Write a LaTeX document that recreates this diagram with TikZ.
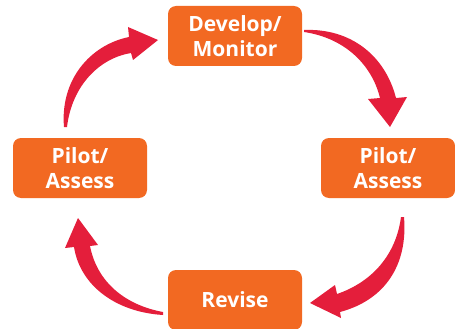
\documentclass[tikz,border=0pt]{standalone}
\usepackage{fontspec}
\setmainfont{Open Sans}
\usepackage{xcolor}
\definecolor{boxorange}{HTML}{F26922}
\definecolor{arrowred}{HTML}{E41E3B}

\begin{document}
\begin{tikzpicture}[x=1pt, y=-1pt,
        main/.style = {fill=boxorange, rounded corners=8pt, text=white, font=\fontsize{21}{25}\selectfont\bfseries, align=center, minimum width=134pt, minimum height=60pt, inner sep=0pt},
        curvy/.style = {fill=arrowred}]
        \useasboundingbox (0,0) rectangle (455,329);

        \node[main] (dev) at (235,36) {Develop/\\Monitor};
        \node[main] (pilotR) at (388,168) {Pilot/\\Assess};
        \node[main] (revise) at (235,300) {Revise};
        \node[main] (pilotL) at (80,168) {Pilot/\\Assess};

        % dev -> pilotR
        \fill[curvy] (304,30) .. controls (350,28) and (385,55) .. (396,98) -- (407,97) -- (390,127) -- (368,99) -- (380,98) .. controls (372,65) and (345,38) .. (304,32) -- cycle;
        % pilotR -> revise
        \fill[curvy] (404,217) .. controls (408,265) and (385,300) .. (340,312) -- (341,318) -- (310,303) -- (335,285) -- (337,294) .. controls (372,282) and (396,255) .. (401,217) -- cycle;
        % revise -> pilotL
        \fill[curvy] (163,315) .. controls (115,312) and (80,285) .. (74,247) -- (65,248) -- (78,218) -- (98,245) -- (90,246) .. controls (97,282) and (125,305) .. (163,312) -- cycle;
        % pilotL -> dev
        \fill[curvy] (64,127) .. controls (60,80) and (90,45) .. (129,37) -- (128,27) -- (158,40) -- (133,60) -- (131,53) .. controls (100,58) and (72,85) .. (67,127) -- cycle;

    \end{tikzpicture}
\end{document}
